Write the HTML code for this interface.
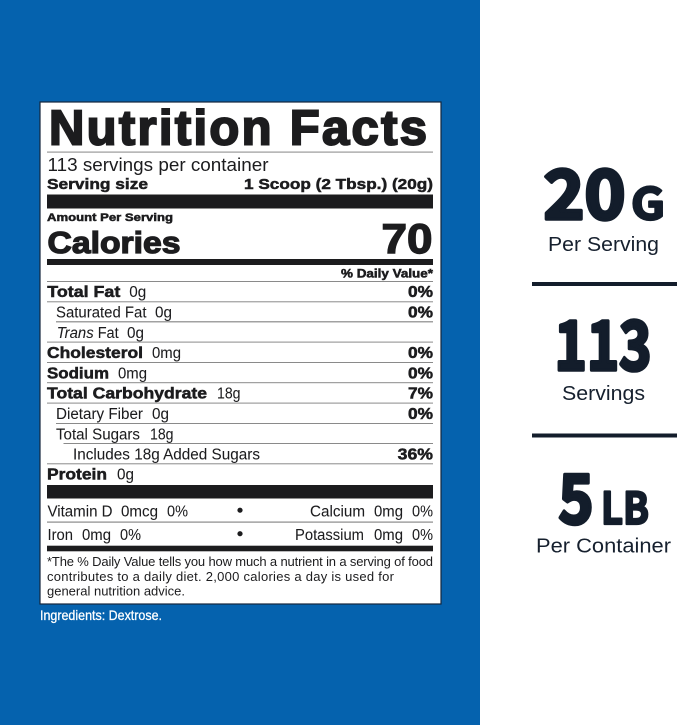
<!DOCTYPE html>
<html lang="en">
<head>
<meta charset="utf-8">
<title>Nutrition Facts</title>
<style>
html,body{margin:0;padding:0;background:#fff;width:679px;height:725px;overflow:hidden}
svg{display:block}
text{font-family:"Liberation Sans",sans-serif;fill:#1c1c1e}
.b{font-weight:700;stroke:#1c1c1e;stroke-width:.5px}
.r{font-size:15.5px;stroke:#1c1c1e;stroke-width:.05px}
.h{font-size:15.5px}
.f{font-size:13px}
.s{font-family:"Noto Sans CJK JP","Liberation Sans",sans-serif;font-weight:700;fill:#131d2b;stroke:#131d2b;stroke-width:2.2px}
.l{font-size:20px;fill:#16202e}
</style>
</head>
<body>
<svg width="679" height="725" viewBox="0 0 679 725" xmlns="http://www.w3.org/2000/svg">
<rect x="0" y="0" width="480" height="725" fill="#0562ae"/>
<rect x="40" y="102" width="401" height="502" fill="#fff" stroke="#14263c" stroke-width="1.2"/>

<text x="49" y="144.5" class="b" font-size="49" textLength="378" lengthAdjust="spacing" style="stroke-width:2px">Nutrition Facts</text>
<rect x="47" y="151.5" width="386" height="1.2" fill="#999"/>
<text x="47.5" y="171" font-size="18" textLength="221" lengthAdjust="spacingAndGlyphs">113 servings per container</text>
<text x="47" y="189" class="b" font-size="15" textLength="101" lengthAdjust="spacingAndGlyphs">Serving size</text>
<text x="244" y="189" class="b" font-size="15" textLength="189" lengthAdjust="spacingAndGlyphs">1 Scoop (2 Tbsp.) (20g)</text>
<rect x="47" y="194.5" width="386" height="14" fill="#1c1c1e"/>
<text x="47" y="221" class="b" font-size="11" textLength="126" lengthAdjust="spacingAndGlyphs">Amount Per Serving</text>
<text x="47.5" y="253" class="b" font-size="31" textLength="133" lengthAdjust="spacingAndGlyphs" style="stroke-width:1.3px">Calories</text>
<text x="381.5" y="253" class="b" font-size="42" textLength="51" lengthAdjust="spacingAndGlyphs" style="stroke-width:1.4px">70</text>
<rect x="47" y="259" width="386" height="6" fill="#1c1c1e"/>
<text x="341" y="277.3" class="b" font-size="12" textLength="92" lengthAdjust="spacingAndGlyphs">% Daily Value*</text>

<g fill="#8a8a8a">
<rect x="47" y="281" width="386" height="1"/>
<rect x="47" y="301.3" width="386" height="1"/>
<rect x="56" y="321.2" width="377" height="1.2"/>
<rect x="47" y="341.6" width="386" height="1"/>
<rect x="47" y="362" width="386" height="1"/>
<rect x="47" y="382.2" width="386" height="1"/>
<rect x="47" y="402.6" width="386" height="1"/>
<rect x="56" y="423" width="377" height="1"/>
<rect x="63.5" y="443" width="369.5" height="1"/>
<rect x="47" y="463.3" width="386" height="1"/>
</g>

<g>
<text x="47.3" y="297" class="b h" textLength="73" lengthAdjust="spacingAndGlyphs">Total Fat</text>
<text x="129.3" y="297" class="r" textLength="17" lengthAdjust="spacingAndGlyphs">0g</text>
<text x="408" y="297" class="b h" textLength="25" lengthAdjust="spacingAndGlyphs">0%</text>
</g>
<g>
<text x="56" y="317.7" class="r" textLength="90.5" lengthAdjust="spacingAndGlyphs">Saturated Fat</text>
<text x="155" y="317.7" class="r" textLength="17" lengthAdjust="spacingAndGlyphs">0g</text>
<text x="408" y="317.7" class="b h" textLength="25" lengthAdjust="spacingAndGlyphs">0%</text>
</g>
<g>
<text x="56.7" y="338" class="r" font-style="italic" textLength="37" lengthAdjust="spacingAndGlyphs">Trans</text>
<text x="97.7" y="338" class="r" textLength="21" lengthAdjust="spacingAndGlyphs">Fat</text>
<text x="127" y="338" class="r" textLength="17" lengthAdjust="spacingAndGlyphs">0g</text>
</g>
<g>
<text x="47" y="358" class="b h" textLength="96" lengthAdjust="spacingAndGlyphs">Cholesterol</text>
<text x="152" y="358" class="r" textLength="29" lengthAdjust="spacingAndGlyphs">0mg</text>
<text x="408" y="358" class="b h" textLength="25" lengthAdjust="spacingAndGlyphs">0%</text>
</g>
<g>
<text x="47" y="378.3" class="b h" textLength="62" lengthAdjust="spacingAndGlyphs">Sodium</text>
<text x="118" y="378.3" class="r" textLength="29" lengthAdjust="spacingAndGlyphs">0mg</text>
<text x="408" y="378.3" class="b h" textLength="25" lengthAdjust="spacingAndGlyphs">0%</text>
</g>
<g>
<text x="47" y="398.7" class="b h" textLength="160" lengthAdjust="spacingAndGlyphs">Total Carbohydrate</text>
<text x="217" y="398.7" class="r" textLength="23.5" lengthAdjust="spacingAndGlyphs">18g</text>
<text x="408" y="398.7" class="b h" textLength="25" lengthAdjust="spacingAndGlyphs">7%</text>
</g>
<g>
<text x="56" y="419" class="r" textLength="87" lengthAdjust="spacingAndGlyphs">Dietary Fiber</text>
<text x="152" y="419" class="r" textLength="17" lengthAdjust="spacingAndGlyphs">0g</text>
<text x="408" y="419" class="b h" textLength="25" lengthAdjust="spacingAndGlyphs">0%</text>
</g>
<g>
<text x="56" y="439.3" class="r" textLength="84" lengthAdjust="spacingAndGlyphs">Total Sugars</text>
<text x="150" y="439.3" class="r" textLength="23.5" lengthAdjust="spacingAndGlyphs">18g</text>
</g>
<g>
<text x="73" y="459.7" class="r" textLength="187" lengthAdjust="spacingAndGlyphs">Includes 18g Added Sugars</text>
<text x="397.7" y="459.7" class="b h" textLength="35.3" lengthAdjust="spacingAndGlyphs">36%</text>
</g>
<g>
<text x="47" y="479.7" class="b h" textLength="60" lengthAdjust="spacingAndGlyphs">Protein</text>
<text x="117" y="479.7" class="r" textLength="17" lengthAdjust="spacingAndGlyphs">0g</text>
</g>

<rect x="47" y="485" width="386" height="13.5" fill="#1c1c1e"/>

<g>
<text x="47.5" y="516.3" class="r" textLength="65" lengthAdjust="spacingAndGlyphs">Vitamin D</text>
<text x="121" y="516.3" class="r" textLength="37" lengthAdjust="spacingAndGlyphs">0mcg</text>
<text x="167" y="516.3" class="r" textLength="21" lengthAdjust="spacingAndGlyphs">0%</text>
</g>
<circle cx="240" cy="510.2" r="2.6" fill="#1c1c1e"/>
<g>
<text x="310" y="516.3" class="r" textLength="55" lengthAdjust="spacingAndGlyphs">Calcium</text>
<text x="374" y="516.3" class="r" textLength="29" lengthAdjust="spacingAndGlyphs">0mg</text>
<text x="412" y="516.3" class="r" textLength="21" lengthAdjust="spacingAndGlyphs">0%</text>
</g>
<rect x="47" y="521.5" width="386" height="1.2" fill="#8a8a8a"/>
<g>
<text x="47.5" y="540" class="r" textLength="25.5" lengthAdjust="spacingAndGlyphs">Iron</text>
<text x="82" y="540" class="r" textLength="29" lengthAdjust="spacingAndGlyphs">0mg</text>
<text x="120" y="540" class="r" textLength="21" lengthAdjust="spacingAndGlyphs">0%</text>
</g>
<circle cx="240" cy="533.7" r="2.6" fill="#1c1c1e"/>
<g>
<text x="295" y="540" class="r" textLength="69" lengthAdjust="spacingAndGlyphs">Potassium</text>
<text x="374" y="540" class="r" textLength="29" lengthAdjust="spacingAndGlyphs">0mg</text>
<text x="412" y="540" class="r" textLength="21" lengthAdjust="spacingAndGlyphs">0%</text>
</g>
<rect x="47" y="545.7" width="386" height="5.6" fill="#1c1c1e"/>

<g>
<text x="47" y="566" class="f" textLength="386" lengthAdjust="spacing">*The % Daily Value tells you how much a nutrient in a serving of food</text>
<text x="47" y="581" class="f" textLength="347" lengthAdjust="spacing">contributes to a daily diet.  2,000 calories a day is used for</text>
<text x="47" y="595.7" class="f" textLength="138" lengthAdjust="spacing">general nutrition advice.</text>
</g>

<text x="40" y="620" font-size="14" textLength="122" lengthAdjust="spacingAndGlyphs" style="fill:#fff;stroke:#fff;stroke-width:.3px">Ingredients: Dextrose.</text>

<g>
<text x="543.5" y="219" class="s" font-size="68" textLength="82" lengthAdjust="spacingAndGlyphs" style="stroke-width:3.6px;stroke-linejoin:round">20</text>
<text x="631" y="219.7" class="s" font-size="44" textLength="34" lengthAdjust="spacingAndGlyphs" style="stroke-linejoin:round">G</text>
<text x="548" y="251" class="l" textLength="111" lengthAdjust="spacingAndGlyphs">Per Serving</text>
</g>
<rect x="532" y="282" width="145" height="4" fill="#131d2b"/>
<g>
<text x="554.5" y="370" class="s" font-size="68" textLength="97" lengthAdjust="spacingAndGlyphs" style="stroke-width:3.6px;stroke-linejoin:round">113</text>
<text x="562" y="400" class="l" textLength="83" lengthAdjust="spacingAndGlyphs">Servings</text>
</g>
<rect x="532" y="433.5" width="145" height="4" fill="#131d2b"/>
<g>
<text x="558.5" y="523.3" class="s" font-size="68" textLength="35" lengthAdjust="spacingAndGlyphs" style="stroke-width:3.6px;stroke-linejoin:round">5</text>
<text x="601" y="524" class="s" font-size="44" textLength="48" lengthAdjust="spacingAndGlyphs" style="stroke-linejoin:round">LB</text>
<text x="536" y="552.7" class="l" textLength="135" lengthAdjust="spacingAndGlyphs">Per Container</text>
</g>
</svg>
</body>
</html>
